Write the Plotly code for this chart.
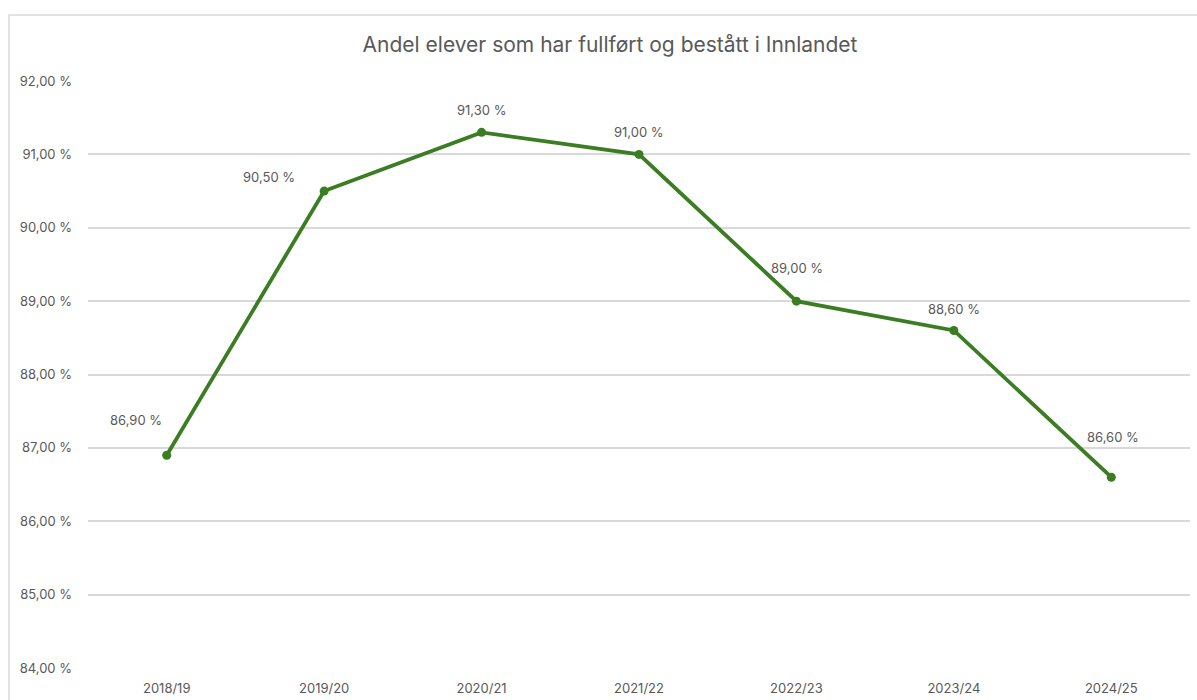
import plotly.graph_objects as go

categories = ["2018/19", "2019/20", "2020/21", "2021/22", "2022/23", "2023/24", "2024/25"]
values = [86.9, 90.5, 91.3, 91.0, 89.0, 88.6, 86.6]
y_ticks = [84, 85, 86, 87, 88, 89, 90, 91, 92]
y_tick_labels = ["84,00 %", "85,00 %", "86,00 %", "87,00 %", "88,00 %", "89,00 %", "90,00 %", "91,00 %", "92,00 %"]
title_text = "Andel elever som har fullført og bestått i Innlandet"

# label offsets (pixels) relative to each point, styling only
label_dx = [-31, -55, 0, 0, 1, 0, 2]
label_dy = [35, 14, 22, 22, 33, 21, 40]

line_color = "#3a7d22"
text_color = "#595959"
font_family = "Inter, Open Sans, Liberation Sans, sans-serif"

fig = go.Figure()
fig.add_trace(go.Scatter(
    x=categories, y=values, mode="lines+markers",
    line=dict(color=line_color, width=3.8),
    marker=dict(color=line_color, size=9),
    hoverinfo="skip", showlegend=False,
))

def fmt(v):
    return f"{v:.2f}".replace(".", ",") + " %"

for c, v, dx, dy in zip(categories, values, label_dx, label_dy):
    fig.add_annotation(x=c, y=v, text=fmt(v), showarrow=False,
                       xshift=dx, yshift=dy,
                       font=dict(size=13, color=text_color, family=font_family))

fig.add_shape(type="rect", xref="paper", yref="paper",
              x0=-0.0717, x1=1.2, y0=-0.2, y1=1.1124,
              line=dict(color="#d9d9d9", width=1.5), fillcolor="rgba(0,0,0,0)", layer="below")

fig.update_layout(
    width=1197, height=700,
    margin=dict(l=88, r=7, t=81, b=32, autoexpand=False),
    paper_bgcolor="white", plot_bgcolor="white",
    title=dict(text=title_text, x=0.4737, xref="paper", xanchor="center",
               y=1 - 45 / 700, yref="container", yanchor="middle",
               font=dict(size=21, color=text_color, family=font_family)),
    font=dict(family=font_family, color=text_color, size=13),
    xaxis=dict(type="category", showgrid=False, showline=False, zeroline=False,
               ticks="", tickfont=dict(size=13, color=text_color),
               range=[-0.5, len(categories) - 0.5], ticklabelstandoff=11),
    yaxis=dict(range=[84, 92], tickvals=y_ticks, ticktext=y_tick_labels,
               showgrid=True, gridcolor="#d9d9d9", gridwidth=1.5,
               zeroline=False, showline=False, ticks="",
               tickfont=dict(size=13, color=text_color), ticklabelstandoff=15),
)

fig.write_html("out.html", config={"displayModeBar": False},
               post_script="document.body.style.margin='0';document.body.style.overflow='hidden';")
